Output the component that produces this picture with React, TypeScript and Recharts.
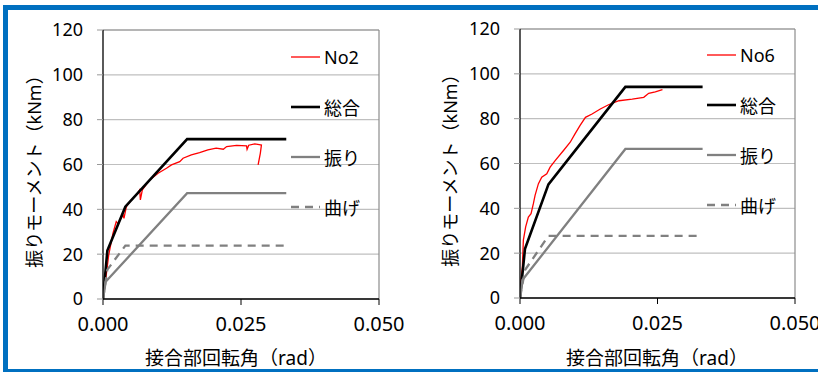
import React from 'react';
import { LineChart, Line, XAxis, YAxis, CartesianGrid, ReferenceLine } from 'recharts';

const X_TICKS = [0, 0.025, 0.05];
const Y_TICKS = [0, 20, 40, 60, 80, 100, 120];

const Y_TITLE = '振りモーメント（kNm）';
const X_TITLE = '接合部回転角（rad）';
const SERIES_NAMES = ['総合', '振り', '曲げ'];

// No2 test result
const no2X = [0, 0.00048, 0.00103, 0.0018, 0.0024, 0.0027, 0.00363, 0.0038, 0.00423, 0.00514, 0.00605, 0.00665, 0.00677, 0.00713, 0.00846, 0.00998, 0.0115, 0.0124, 0.0139, 0.0145, 0.016, 0.0175, 0.019, 0.0205, 0.0218, 0.0224, 0.0242, 0.026, 0.0261, 0.0264, 0.0275, 0.0283, 0.0287, 0.0285, 0.0281];
const no2Y = [0, 8.5, 19.6, 29.3, 34.5, 33.6, 37.5, 36, 41.2, 44.2, 46.4, 48.7, 44.2, 48.7, 53.1, 56.1, 58.3, 59.8, 61.3, 62.8, 64.3, 65.3, 66.5, 67.3, 66.8, 68, 68.5, 68.3, 66.8, 68.6, 69.2, 68.9, 68.7, 65, 59.8];

const total2X = [0, 0.00079, 0.00405, 0.01524, 0.0332];
const total2Y = [0, 21.6, 41.2, 71.3, 71.3];
const shear2X = [0, 0.00048, 0.01524, 0.0332];
const shear2Y = [0, 7.7, 47.2, 47.2];
const bend2X = [0, 0.00079, 0.00405, 0.0332];
const bend2Y = [0, 13.1, 23.8, 23.8];

// No6 test result
const no6X = [0, 0.00018, 0.00043, 0.00061, 0.00103, 0.00152, 0.00201, 0.00243, 0.00274, 0.00335, 0.00395, 0.00487, 0.00548, 0.00639, 0.00791, 0.00913, 0.01, 0.0109, 0.0119, 0.0131, 0.0146, 0.0161, 0.018, 0.0204, 0.0225, 0.0234, 0.0246, 0.0259];
const no6Y = [0, 8, 13.9, 25.8, 31.7, 36.1, 37.6, 42.1, 45.8, 51, 53.9, 55.4, 58.4, 61.3, 65.8, 69.5, 73.2, 76.9, 80.6, 82.1, 84.3, 86.2, 88, 88.7, 89.5, 91.3, 92, 92.9];

const total6X = [0, 0.00091, 0.00517, 0.01916, 0.0332];
const total6Y = [0, 22, 50.7, 94.2, 94.2];
const shear6X = [0, 0.00043, 0.01916, 0.0332];
const shear6Y = [0, 8, 66.5, 66.5];
const bend6X = [0, 0.00091, 0.00517, 0.0332];
const bend6Y = [0, 12.5, 27.7, 27.7];

const FONT = "'Noto Sans', 'Noto Sans CJK JP', sans-serif";
const BLUE = '#0070c0';

const toPts = (xs: number[], ys: number[]) => xs.map((x, i) => ({ x, y: ys[i] }));

interface PanelProps {
    name: string;
    test: { x: number; y: number }[];
    total: { x: number; y: number }[];
    shear: { x: number; y: number }[];
    bend: { x: number; y: number }[];
    left: number;
    margin: { top: number; right: number; bottom: number; left: number };
    legendLeft: number;
    legendTop: number;
    yTitle: { x: number; y: number };
    xTitle: { x: number; y: number };
}

const STYLES = [
    { color: '#ff0000', width: 1.3, dash: undefined },
    { color: '#000000', width: 2.6, dash: undefined },
    { color: '#808080', width: 2.3, dash: undefined },
    { color: '#808080', width: 2.3, dash: '8 6' },
];

const Panel: React.FC<PanelProps> = (p) => {
    const names = [p.name, ...SERIES_NAMES];
    const series = [p.test, p.total, p.shear, p.bend];
    return (
        <div style={{ position: 'absolute', left: p.left, top: 0, width: 409, height: 372 }}>
            <LineChart width={409} height={372} margin={p.margin}>
                <CartesianGrid horizontal vertical={false} stroke="#bfbfbf" strokeWidth={1.2} />
                <XAxis
                    type="number"
                    dataKey="x"
                    domain={[0, 0.05]}
                    ticks={X_TICKS}
                    tickFormatter={(v: number) => v.toFixed(3)}
                    height={30}
                    tickSize={6}
                    tickMargin={12}
                    axisLine={{ stroke: '#000', strokeWidth: 1.3 }}
                    tickLine={{ stroke: '#000' }}
                    tick={{ fill: '#000', fontSize: 20, fontFamily: FONT }}
                    allowDataOverflow
                />
                <YAxis
                    type="number"
                    dataKey="y"
                    domain={[0, 120]}
                    ticks={Y_TICKS}
                    width={40}
                    tickSize={6}
                    tickMargin={14}
                    axisLine={{ stroke: '#000', strokeWidth: 1.3 }}
                    tickLine={{ stroke: '#999' }}
                    tick={{ fill: '#000', fontSize: 18, fontFamily: FONT }}
                />
                <ReferenceLine y={120} stroke="#8c8c8c" strokeWidth={1.2} />
                <ReferenceLine x={0.05} stroke="#8c8c8c" strokeWidth={1.2} />
                {series.map((d, i) => (
                    <Line
                        key={names[i]}
                        data={d}
                        dataKey="y"
                        name={names[i]}
                        stroke={STYLES[i].color}
                        strokeWidth={STYLES[i].width}
                        strokeDasharray={STYLES[i].dash}
                        dot={false}
                        type="linear"
                        isAnimationActive={false}
                    />
                ))}
            </LineChart>
            {/* legend sits inside the plot on the right */}
            <div style={{ position: 'absolute', left: p.legendLeft, top: p.legendTop }}>
                {names.map((n, i) => (
                    <div key={n} style={{ display: 'flex', alignItems: 'center', height: 50 }}>
                        <svg width={30} height={10}>
                            <line x1={0} y1={5} x2={29} y2={5} stroke={STYLES[i].color} strokeWidth={STYLES[i].width} strokeDasharray={STYLES[i].dash} />
                        </svg>
                        <span style={{ marginLeft: 3, fontSize: 18, fontFamily: FONT, color: '#000' }}>{n}</span>
                    </div>
                ))}
            </div>
            <div style={{ position: 'absolute', left: p.yTitle.x, top: p.yTitle.y, transform: 'translate(-50%, -50%) rotate(-90deg)', whiteSpace: 'nowrap', fontSize: 18, fontFamily: FONT, color: '#000' }}>
                {Y_TITLE}
            </div>
            <div style={{ position: 'absolute', left: p.xTitle.x, top: p.xTitle.y, transform: 'translate(-50%, -50%)', whiteSpace: 'nowrap', fontSize: 19, fontFamily: FONT, color: '#000' }}>
                {X_TITLE}
            </div>
        </div>
    );
};

export default function App() {
    return (
        <div style={{ position: 'fixed', left: 0, top: 0, width: 818, height: 372, background: '#fff', overflow: 'hidden' }}>
            <Panel
                name="No2"
                test={toPts(no2X, no2Y)}
                total={toPts(total2X, total2Y)}
                shear={toPts(shear2X, shear2Y)}
                bend={toPts(bend2X, bend2Y)}
                left={0}
                margin={{ top: 30, right: 30, bottom: 43, left: 63 }}
                legendLeft={291}
                legendTop={32}
                yTitle={{ x: 33, y: 167 }}
                xTitle={{ x: 236, y: 357 }}
            />
            <Panel
                name="No6"
                test={toPts(no6X, no6Y)}
                total={toPts(total6X, total6Y)}
                shear={toPts(shear6X, shear6Y)}
                bend={toPts(bend6X, bend6Y)}
                left={409}
                margin={{ top: 29, right: 23, bottom: 44, left: 71 }}
                legendLeft={298}
                legendTop={30}
                yTitle={{ x: 40, y: 166 }}
                xTitle={{ x: 248, y: 357 }}
            />
            <div style={{ position: 'absolute', left: 3, top: 5, width: 815, height: 5, background: BLUE }} />
            <div style={{ position: 'absolute', left: 3, top: 5, width: 5, height: 367, background: BLUE }} />
            <div style={{ position: 'absolute', left: 3, top: 369, width: 815, height: 3, background: BLUE }} />
        </div>
    );
}
